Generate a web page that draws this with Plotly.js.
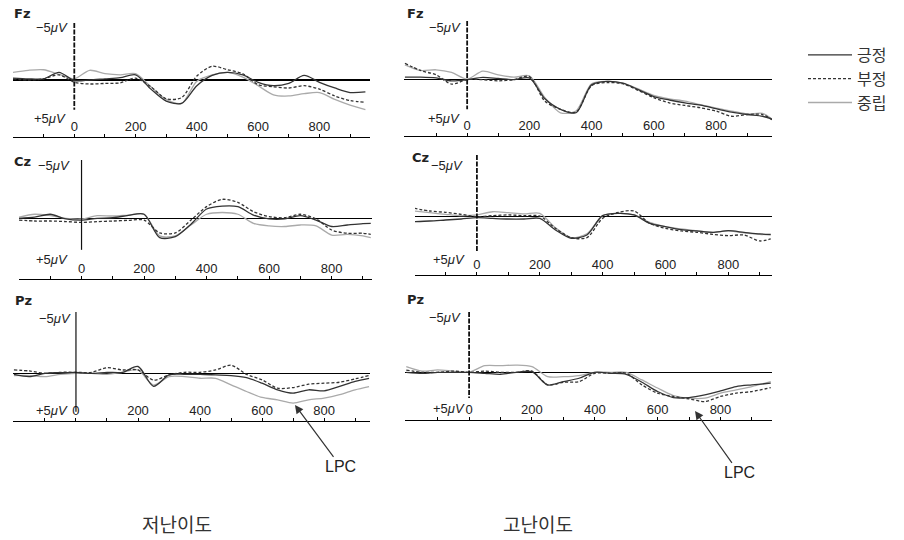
<!DOCTYPE html>
<html><head><meta charset="utf-8">
<script src="https://cdn.plot.ly/plotly-3.0.1.min.js"></script>
<style>html,body{margin:0;padding:0;background:#fff}#chart{width:904px;height:540px}</style>
</head><body><div id="chart"></div>
<script>
// ---------- data ----------
const seriesNames = ['긍정', '부정', '중립'];
const columnLabels = ['저난이도', '고난이도'];
const electrodes = ['Fz', 'Cz', 'Pz'];
const xTickVals = [-100, 0, 100, 200, 300, 400, 500, 600, 700, 800, 900];
const xTickText = ['', '0', '', '200', '', '400', '', '600', '', '800', ''];
const annotationLabel = 'LPC';

// Fz, low difficulty
const timeFzLow = [-200,-150,-100,-50,0,50,100,150,200,250,300,350,400,450,500,550,600,650,700,750,800,850,900,950];
const fzLowPos = [-0.17,-0.1,-0.1,-0.67,0.05,0,-0.1,-0.2,-0.45,0.8,1.85,2.05,0.5,-0.4,-0.67,-0.45,0.2,0.5,0.3,-0.4,0.2,0.7,1.1,1.05];
const fzLowNeg = [-0.1,0,-0.1,-0.45,0.2,0.35,0.3,0.25,-0.17,0.6,1.65,1.55,-0.35,-1.2,-0.9,-0.55,0.4,0.6,0.7,0.5,0.8,1.4,1.8,1.95];
const fzLowNeu = [-0.67,-0.85,-0.9,-0.5,-0.1,-0.85,-0.55,-0.45,-0.55,0.6,1.7,2.05,0.1,-0.45,-0.67,-0.25,0.5,1.3,1.4,1.2,1.1,1.7,2.2,2.6];

// Fz, high difficulty
const timeFzHigh = [-200,-150,-100,-50,0,50,100,150,200,250,300,350,400,450,500,550,600,650,700,750,800,850,900,950,980];
const fzHighPos = [-0.17,-0.17,-0.1,0.15,0.05,-0.15,-0.05,0.05,-0.1,1.7,2.6,2.9,0.5,0.2,0.35,0.9,1.5,1.8,2.05,2.25,2.55,2.85,3.05,3.2,3.45];
const fzHighNeg = [-1.36,-0.74,-0.37,0.43,0.05,0.05,0.15,0.05,-0.22,1.9,2.6,2.85,0.57,0.3,0.4,0.97,1.6,2.05,2.27,2.47,2.75,3.2,3.05,3.05,3.5];
const fzHighNeu = [-1.22,-0.74,-0.8,-0.57,0,-0.68,-0.37,-0.17,-0.28,1.6,2.9,2.75,0.4,0.2,0.35,0.85,1.4,1.7,1.9,2.2,2.5,2.75,3.0,2.95,3.45];

// Cz, low difficulty
const timeCzLow = [-200,-150,-100,-50,0,50,100,150,200,250,300,350,400,450,500,550,600,650,700,750,800,850,900,925];
const czLowPos = [0,-0.1,-0.35,0.05,0.15,0,-0.05,-0.25,-0.35,1.65,1.57,0.5,-0.8,-1.05,-1.0,-0.28,0.05,0.05,-0.23,0.15,0.7,0.57,0.45,0.43];
const czLowNeg = [0.15,0.23,0.23,0.28,0.35,0.28,0.23,0.17,0.15,1.25,1.25,0.15,-1.0,-1.63,-1.37,-0.57,-0.15,-0.05,-0.35,0.05,1.0,1.28,1.28,1.37];
const czLowNeu = [-0.1,-0.35,-0.23,0,0.05,-0.23,-0.2,-0.28,-0.35,1.5,1.5,0.57,-0.35,-0.5,-0.35,0.43,0.65,0.7,0.57,0.65,1.43,1.37,1.5,1.65];

// Cz, high difficulty
const timeCzHigh = [-200,-150,-100,-50,0,50,100,150,200,250,300,350,400,450,500,550,600,650,700,750,800,850,900,935];
const czHighPos = [0.4,0.35,0.27,0.19,0.08,0.14,0.19,0.19,0.14,1.08,1.75,1.49,-0.08,-0.27,-0.14,0.54,0.81,1.05,1.16,1.27,1.14,1.27,1.4,1.43];
const czHighNeg = [-0.68,-0.46,-0.35,-0.19,0,-0.08,-0.14,-0.08,-0.05,0.95,1.7,1.7,0.14,-0.35,-0.46,0.54,0.95,1.16,1.27,1.43,1.54,1.49,1.97,1.81];
const czHighNeu = [-0.46,-0.32,-0.19,-0.08,-0.14,-0.4,-0.32,-0.22,-0.27,0.9,1.7,1.4,-0.08,-0.27,-0.14,0.46,0.81,1.0,1.16,1.27,1.16,1.32,1.43,1.49];

// Pz, low difficulty
const timePzLow = [-200,-150,-100,-50,0,50,100,150,200,250,300,350,400,450,500,550,600,650,700,750,800,850,900,945];
const pzLowPos = [0.03,0.21,-0.05,-0.1,-0.13,-0.05,-0.13,-0.13,-0.6,1.0,0.08,0.03,0.03,0.08,0.13,0.3,0.75,1.28,1.55,1.28,1.36,1.0,0.6,0.35];
const pzLowNeg = [-0.32,-0.24,-0.05,-0.13,-0.13,-0.13,-0.5,-0.32,-0.32,0.5,0.08,-0.13,-0.13,-0.32,-0.7,0.03,0.48,1.15,1.1,0.83,0.75,0.67,0.4,0.13];
const pzLowNeu = [0.13,0.13,0.21,0.03,-0.05,-0.05,0.03,-0.13,-0.32,0.9,0.21,0.21,0.35,0.35,0.88,1.42,1.9,2.09,2.35,2.09,1.95,1.68,1.28,1.02];

// Pz, high difficulty
const timePzHigh = [-200,-150,-100,-50,0,50,100,150,200,250,300,350,400,450,500,550,600,650,700,750,800,850,900,960];
const pzHighPos = [0,0.08,0,0,0,0.08,0.16,0,-0.05,1.04,0.77,0.49,0,0.08,0.16,0.82,1.59,2.09,2.09,1.87,1.54,1.18,1.04,0.9];
const pzHighNeg = [-0.19,0,0,-0.1,0,-0.1,0,0,-0.1,1.04,0.82,0.77,0.08,0.08,0.08,1.04,1.73,2.0,2.2,2.42,2.0,1.73,1.59,1.27];
const pzHighNeu = [-0.47,-0.1,-0.2,-0.1,0,-0.55,-0.55,-0.6,-0.47,0.36,0.36,0.27,0,0,0,0.63,1.3,1.92,2.14,2.14,1.73,1.46,1.18,0.77];

// LPC arrow targets (ms, μV)
const lpcLow = [706, 2.5];
const lpcHigh = [719, 3.2];

// ---------- layout config ----------
const W = 904, H = 540;
const px2x = p => p / W;
const px2y = p => 1 - p / H;

const panels = [
  {el:0, col:0, t:timeFzLow,  s:[fzLowPos, fzLowNeg, fzLowNeu],  l:13,  r:370, top:23,  bot:137, xr:[-200,965], yb:5.0,  vEnd:2.6, vDash:true,  lab:[12,14],  m5:[70,27],  p5:[68,118]},
  {el:0, col:1, t:timeFzHigh, s:[fzHighPos, fzHighNeg, fzHighNeu], l:404, r:772, top:21,  bot:136, xr:[-203,980], yb:4.9,  vEnd:2.6, vDash:true,  lab:[405,14], m5:[463,27], p5:[462,118]},
  {el:1, col:0, t:timeCzLow,  s:[czLowPos, czLowNeg, czLowNeu],  l:19,  r:372, top:160, bot:279, xr:[-200,929], yb:5.2,  vEnd:2.7, vDash:false, lab:[12,161], m5:[72,166], p5:[70,260]},
  {el:1, col:1, t:timeCzHigh, s:[czHighPos, czHighNeg, czHighNeu], l:415, r:772, top:155, bot:275, xr:[-197,939], yb:4.73, vEnd:2.9, vDash:true,  lab:[410,157],m5:[465,165], p5:[467,260]},
  {el:2, col:0, t:timePzLow,  s:[pzLowPos, pzLowNeg, pzLowNeu],  l:13,  r:370, top:312, bot:421, xr:[-203,948], yb:3.8,  vEnd:3.06,vDash:false, lab:[13,300], m5:[73,318], p5:[70,410]},
  {el:2, col:1, t:timePzHigh, s:[pzHighPos, pzHighNeg, pzHighNeu], l:405, r:772, top:312, bot:420, xr:[-204,964], yb:3.95, vEnd:2.13,vDash:true,  lab:[405,299],m5:[463,317], p5:[467,408]}
];

const styles = [
  {color:'#333333', width:1.3, dash:'solid', rank:1},
  {color:'#333333', width:1.3, dash:'3px,2px', rank:2},
  {color:'#aaaaaa', width:1.3, dash:'solid', rank:3}
];
const drawOrder = [2, 1, 0];

const traces = [];
const layout = {
  width: W, height: H,
  margin: {l:0, r:0, t:0, b:0},
  paper_bgcolor: '#ffffff', plot_bgcolor: 'rgba(0,0,0,0)',
  showlegend: true,
  legend: {x: px2x(803), y: px2y(38), xanchor:'left', yanchor:'top',
           font:{family:'Noto Sans CJK KR', size:16, color:'#333'},
           bgcolor:'rgba(0,0,0,0)', itemwidth:44, traceorder:'normal'},
  annotations: [], shapes: []
};

const tickFont = {family:'Liberation Sans, Arial, sans-serif', size:13, color:'#222'};
const uvFont = {family:'Liberation Sans, Arial, sans-serif', size:13, color:'#222'};

panels.forEach((p, i) => {
  const n = i + 1;
  const xa = 'xaxis' + (n === 1 ? '' : n), ya = 'yaxis' + (n === 1 ? '' : n);
  const xr = 'x' + (n === 1 ? '' : n), yr = 'y' + (n === 1 ? '' : n);
  layout[xa] = {
    domain: [px2x(p.l), px2x(p.r)], range: p.xr, anchor: yr,
    showline: true, linecolor: '#000', linewidth: 1.1, mirror: false,
    ticks: 'inside', ticklen: 3, tickwidth: 1, tickcolor: '#000',
    tickmode: 'array', tickvals: xTickVals, ticktext: xTickText,
    ticklabelposition: 'inside', tickfont: tickFont,
    showgrid: false, zeroline: false, fixedrange: true
  };
  layout[ya] = {
    domain: [px2y(p.bot), px2y(p.top)], range: [p.yb, -5], anchor: xr,
    showline: false, showticklabels: false, ticks: '', showgrid: false,
    zeroline: true, zerolinecolor: '#000', zerolinewidth: 1.1, fixedrange: true
  };
  drawOrder.forEach(k => {
    const st = styles[k];
    traces.push({
      type: 'scatter', mode: 'lines', x: p.t, y: p.s[k],
      xaxis: xr, yaxis: yr, name: seriesNames[k],
      showlegend: i === 0, legendrank: st.rank,
      line: {color: st.color, width: st.width, dash: st.dash, shape: 'spline', smoothing: 0.8},
      hoverinfo: 'skip'
    });
  });
  // stimulus onset line
  layout.shapes.push({type:'line', xref: xr, yref: yr, x0:0, x1:0, y0:-5, y1:p.vEnd,
    line:{color:'#111', width: p.vDash ? 1.8 : 1.2, dash: p.vDash ? '5px,1.5px' : 'solid'}});
  // labels
  layout.annotations.push({xref:'paper', yref:'paper', x:px2x(p.lab[0]), y:px2y(p.lab[1]),
    xanchor:'left', yanchor:'middle', showarrow:false, text:'<b>'+electrodes[p.el]+'</b>',
    font:{family:'DejaVu Sans, sans-serif', size:13, color:'#222'}});
  layout.annotations.push({xref:'paper', yref:'paper', x:px2x(p.m5[0]), y:px2y(p.m5[1]),
    xanchor:'right', yanchor:'middle', showarrow:false, text:'−5<i>μV</i>', font:uvFont});
  layout.annotations.push({xref:'paper', yref:'paper', x:px2x(p.p5[0]), y:px2y(p.p5[1]),
    xanchor:'right', yanchor:'middle', showarrow:false, text:'+5<i>μV</i>', font:uvFont});
});

// LPC arrows
layout.annotations.push({xref:'x5', yref:'y5', x:lpcLow[0], y:lpcLow[1], ax:46, ay:62,
  text:annotationLabel, showarrow:true, arrowhead:2, arrowsize:1.4, arrowwidth:1.2, arrowcolor:'#333',
  font:{family:'Liberation Sans, Arial, sans-serif', size:16, color:'#222'}});
layout.annotations.push({xref:'x6', yref:'y6', x:lpcHigh[0], y:lpcHigh[1], ax:44, ay:62,
  text:annotationLabel, showarrow:true, arrowhead:2, arrowsize:1.4, arrowwidth:1.2, arrowcolor:'#333',
  font:{family:'Liberation Sans, Arial, sans-serif', size:16, color:'#222'}});

// column labels
[[177, 523], [538, 523]].forEach((pos, c) => {
  layout.annotations.push({xref:'paper', yref:'paper', x:px2x(pos[0]), y:px2y(pos[1]),
    xanchor:'center', yanchor:'middle', showarrow:false, text:columnLabels[c],
    font:{family:'Noto Sans CJK KR', size:19, color:'#333'}});
});

Plotly.newPlot('chart', traces, layout, {staticPlot:true, displayModeBar:false});
</script>
</body></html>
